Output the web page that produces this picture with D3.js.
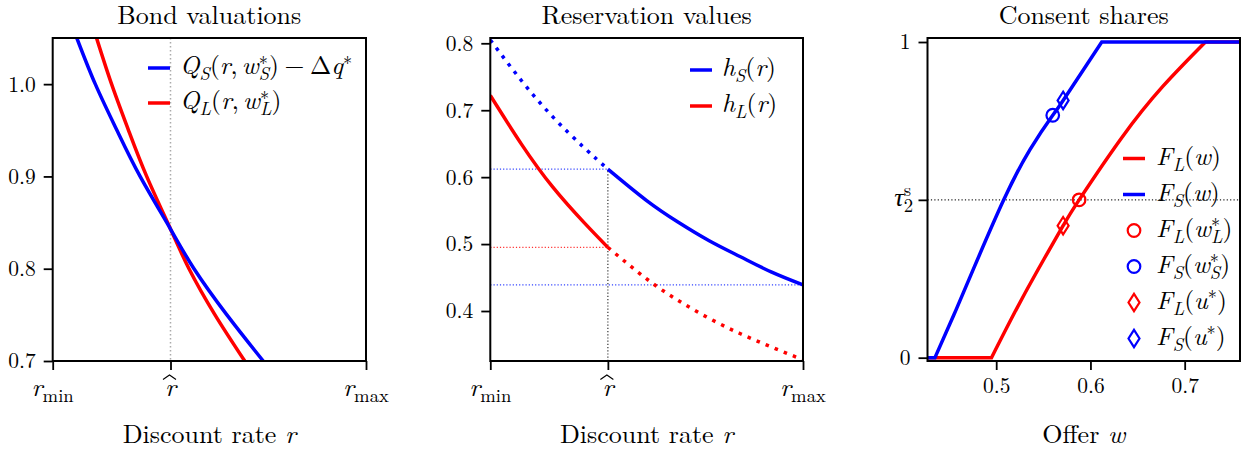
<!DOCTYPE html>
<html>
<head>
<meta charset="utf-8">
<script src="https://cdn.jsdelivr.net/npm/d3@7"></script>
</head>
<body style="margin:0;background:#fff">
<svg id="svg" width="1248" height="450"></svg>
<script>
// ---- values ----
const rHat = 0.376            // r-hat on a [r_min, r_max] = [0, 1] axis

// Bond valuations
const qsR = [0.077, 0.136, 0.205, 0.279, 0.376, 0.451, 0.556, 0.672]
const qsV = [1.05, 1.00, 0.95, 0.90, 0.843, 0.80, 0.75, 0.70]
const qlR = [0.140, 0.188, 0.242, 0.300, 0.376, 0.435, 0.518, 0.613]
const qlV = [1.05, 1.00, 0.95, 0.90, 0.843, 0.80, 0.75, 0.70]
const bondTicks = [0.7, 0.8, 0.9, 1.0]

// Reservation values
const hR  = [0, 0.1, 0.2, 0.3, 0.376, 0.5, 0.6, 0.7, 0.8, 0.9, 1.0]
const hsV = [0.805, 0.744, 0.690, 0.644, 0.612, 0.565, 0.533, 0.505, 0.481, 0.458, 0.439]
const hlV = [0.722, 0.649, 0.585, 0.532, 0.495, 0.448, 0.416, 0.389, 0.366, 0.346, 0.327]
const resTicks = [0.4, 0.5, 0.6, 0.7, 0.8]

// Consent shares
const fsW = [0.427, 0.435, 0.455, 0.476, 0.508, 0.536, 0.560, 0.571, 0.612, 0.759]
const fsV = [0, 0, 0.135, 0.282, 0.50, 0.660, 0.768, 0.815, 1, 1]
const flW = [0.427, 0.495, 0.519, 0.544, 0.571, 0.588, 0.633, 0.677, 0.722, 0.759]
const flV = [0, 0, 0.140, 0.277, 0.418, 0.50, 0.696, 0.860, 1, 1]
const markGroup = ["L", "S", "L", "S"]
const markKind  = ["circle", "circle", "diamond", "diamond"]
const markW = [0.588, 0.560, 0.571, 0.571]
const markF = [0.50, 0.768, 0.418, 0.815]
const tau2s = 0.5
const offerTicks = [0.5, 0.6, 0.7]

// ---- drawing ----
const BLUE = "#0000ff", RED = "#ff0000"
const col = { S: BLUE, L: RED }
const svg = d3.select("#svg").style("font-family", '"Latin Modern Roman", "CMU Serif", "Liberation Serif", serif')
const plotTop = 38, plotBot = 361
const TICK = 21.5, BIG = 26, LEG = 25.5

function mathText(g, x, y, parts, size, anchor) {
  const t = g.append("text").attr("x", x).attr("y", y).attr("font-size", size)
    .attr("text-anchor", anchor || "start").attr("fill", "#000")
  let shift = 0, lastW = 0
  parts.forEach(([s, f, gap]) => {
    const sub = f.includes("b"), sup = f.includes("p")
    const target = sub ? 0.22 * size : sup ? -0.38 * size : 0
    const ts = t.append("tspan").attr("dy", target - shift)
      .attr("font-size", (sub || sup) ? 0.72 * size : size)
      .attr("font-style", f.includes("i") ? "italic" : "normal").text(s)
    if (f.includes("k")) ts.attr("dx", -lastW)
    else if (gap) ts.attr("dx", gap * size)
    shift = target
    lastW = ts.node().getComputedTextLength()
  })
  return t
}

function frame(x0, x1) {
  svg.append("rect").attr("x", x0).attr("y", plotTop).attr("width", x1 - x0).attr("height", plotBot - plotTop)
    .attr("fill", "none").attr("stroke", "#000").attr("stroke-width", 2)
}

function styleAxis(g, size) {
  g.select(".domain").remove()
  g.selectAll("line").attr("stroke", "#000").attr("stroke-width", 1.8)
  g.attr("font-family", null).attr("font-size", size)
}

function clip(id, x0, x1) {
  svg.append("clipPath").attr("id", id).append("rect")
    .attr("x", x0).attr("y", plotTop).attr("width", x1 - x0).attr("height", plotBot - plotTop)
}

function legendLine(g, x, y, color) {
  g.append("line").attr("x1", x).attr("x2", x + 22).attr("y1", y).attr("y2", y)
    .attr("stroke", color).attr("stroke-width", 3.5)
}

function rTickLabels(x) {
  const g = svg.append("g")
  mathText(g, x(0), 396, [["r", "i"], ["min", "b"]], BIG, "middle")
  mathText(g, x(rHat), 396, [["r", "i"]], BIG, "middle")
  const hx = x(rHat) - 1
  g.append("path").attr("d", `M${hx - 6.5},379.5L${hx},375L${hx + 6.5},379.5`)
    .attr("fill", "none").attr("stroke", "#000").attr("stroke-width", 1.1)
  mathText(g, x(1), 396, [["r", "i"], ["max", "b"]], BIG, "middle")
}

const zip = (a, b) => a.map((v, i) => [v, b[i]])
const ast = "\u2217"

// ===== Panel 1: Bond valuations =====
{
  const x0 = 52.7, x1 = 366
  const x = d3.scaleLinear([0, 1], [x0, x1])
  const y = d3.scaleLinear([0.7, 1.05], [plotBot, plotTop])
  clip("c1", x0, x1)
  const line = d3.line().x(d => x(d[0])).y(d => y(d[1])).curve(d3.curveNatural)

  svg.append("line").attr("x1", x(rHat)).attr("x2", x(rHat)).attr("y1", plotTop).attr("y2", plotBot)
    .attr("stroke", "#aaa").attr("stroke-width", 1.5).attr("stroke-dasharray", "1.5,2.5")

  const pg = svg.append("g").attr("clip-path", "url(#c1)")
  pg.append("path").attr("d", line(zip(qlR, qlV))).attr("fill", "none").attr("stroke", RED).attr("stroke-width", 3.5)
  pg.append("path").attr("d", line(zip(qsR, qsV))).attr("fill", "none").attr("stroke", BLUE).attr("stroke-width", 3.5)

  frame(x0, x1)
  const ay = svg.append("g").attr("transform", `translate(${x0},0)`)
    .call(d3.axisLeft(y).tickValues(bondTicks).tickSize(9).tickPadding(8).tickFormat(d3.format(".1f")))
  styleAxis(ay, TICK)
  const ax = svg.append("g").attr("transform", `translate(0,${plotBot})`)
    .call(d3.axisBottom(x).tickValues([0, rHat, 1]).tickSize(9).tickFormat(""))
  styleAxis(ax, TICK)
  rTickLabels(x)

  const lg = svg.append("g")
  legendLine(lg, 148, 68, BLUE)
  mathText(lg, 180, 68 + 6.4, [["Q", "i"], ["S", "ib"], ["(", ""], ["r", "i"], [",", ""], ["w", "i", 0.16], [ast, "p"], ["S", "ibk"],
    [")", ""], ["\u2212", "", 0.22], ["\u0394", "", 0.22], ["q", "i"], [ast, "p"]], LEG)
  legendLine(lg, 148, 103, RED)
  mathText(lg, 180, 103 + 6.4, [["Q", "i"], ["L", "ib"], ["(", ""], ["r", "i"], [",", ""], ["w", "i", 0.16], [ast, "p"], ["L", "ibk"], [")", ""]], LEG)

  svg.append("text").attr("x", (x0 + x1) / 2).attr("y", 24).attr("text-anchor", "middle").attr("font-size", BIG).text("Bond valuations")
  mathText(svg, (x0 + x1) / 2, 443, [["Discount rate ", ""], ["r", "i"]], BIG, "middle")
}

// ===== Panel 2: Reservation values =====
{
  const x0 = 490.3, x1 = 803
  const x = d3.scaleLinear([0, 1], [x0, x1])
  const y = d3.scaleLinear([0.3253, 0.8079], [plotBot, plotTop])
  clip("c2", x0, x1)
  const line = d3.line().x(d => x(d[0])).y(d => y(d[1])).curve(d3.curveNatural)
  const hs = zip(hR, hsV), hl = zip(hR, hlV)
  const hsHat = hsV[hR.indexOf(rHat)], hlHat = hlV[hR.indexOf(rHat)], hsMax = hsV[hsV.length - 1]

  const thin = (xa, xb, ya, yb, c) => svg.append("line").attr("x1", xa).attr("x2", xb).attr("y1", ya).attr("y2", yb)
    .attr("stroke", c).attr("stroke-width", 1.2).attr("stroke-dasharray", "1.2,2")
  thin(x0, x(rHat), y(hsHat), y(hsHat), "#3344ff")
  thin(x0, x(rHat), y(hlHat), y(hlHat), "#ff3333")
  thin(x0, x1, y(hsMax), y(hsMax), "#3344ff")
  thin(x(rHat), x(rHat), plotBot, y(hsHat), "#333")

  const pg = svg.append("g").attr("clip-path", "url(#c2)")
  pg.append("path").attr("d", line(hl.filter(d => d[0] <= rHat))).attr("fill", "none").attr("stroke", RED).attr("stroke-width", 3.5)
  pg.append("path").attr("d", line(hl.filter(d => d[0] >= rHat))).attr("fill", "none").attr("stroke", RED).attr("stroke-width", 3.5)
    .attr("stroke-dasharray", "3.5,6.3")
  pg.append("path").attr("d", line(hs.filter(d => d[0] <= rHat))).attr("fill", "none").attr("stroke", BLUE).attr("stroke-width", 3.5)
    .attr("stroke-dasharray", "3.5,6.3")
  pg.append("path").attr("d", line(hs.filter(d => d[0] >= rHat))).attr("fill", "none").attr("stroke", BLUE).attr("stroke-width", 3.5)

  frame(x0, x1)
  const ay = svg.append("g").attr("transform", `translate(${x0},0)`)
    .call(d3.axisLeft(y).tickValues(resTicks).tickSize(9).tickPadding(8).tickFormat(d3.format(".1f")))
  styleAxis(ay, TICK)
  const ax = svg.append("g").attr("transform", `translate(0,${plotBot})`)
    .call(d3.axisBottom(x).tickValues([0, rHat, 1]).tickSize(9).tickFormat(""))
  styleAxis(ax, TICK)
  rTickLabels(x)

  const lg = svg.append("g")
  legendLine(lg, 690, 70, BLUE)
  mathText(lg, 722, 70 + 6.4, [["h", "i"], ["S", "ib"], ["(", ""], ["r", "i"], [")", ""]], LEG)
  legendLine(lg, 690, 106, RED)
  mathText(lg, 722, 106 + 6.4, [["h", "i"], ["L", "ib"], ["(", ""], ["r", "i"], [")", ""]], LEG)

  svg.append("text").attr("x", (x0 + x1) / 2).attr("y", 24).attr("text-anchor", "middle").attr("font-size", BIG).text("Reservation values")
  mathText(svg, (x0 + x1) / 2, 443, [["Discount rate ", ""], ["r", "i"]], BIG, "middle")
}

// ===== Panel 3: Consent shares =====
{
  const x0 = 927.5, x1 = 1240
  const x = d3.scaleLinear([0.4271, 0.7587], [x0, x1])
  const y = d3.scaleLinear([-0.0105, 1.0127], [plotBot, plotTop])
  clip("c3", x0, x1)
  const rise = d3.line().x(d => x(d[0])).y(d => y(d[1])).curve(d3.curveNatural)
  function cdfPath(ws, vs) {
    const pts = zip(ws, vs)
    const a = pts.findLastIndex(d => d[1] === 0), b = pts.findIndex(d => d[1] === 1)
    const mid = rise(pts.slice(a, b + 1))
    return `M${x(pts[0][0])},${y(0)}L` + mid.slice(1) + `L${x(pts[pts.length - 1][0])},${y(1)}`
  }

  svg.append("line").attr("x1", x0).attr("x2", x1).attr("y1", y(tau2s)).attr("y2", y(tau2s))
    .attr("stroke", "#222").attr("stroke-width", 1.2).attr("stroke-dasharray", "1.2,2.2")

  const pg = svg.append("g").attr("clip-path", "url(#c3)")
  pg.append("path").attr("d", cdfPath(flW, flV)).attr("fill", "none").attr("stroke", RED).attr("stroke-width", 3.5)
  pg.append("path").attr("d", cdfPath(fsW, fsV)).attr("fill", "none").attr("stroke", BLUE).attr("stroke-width", 3.5)

  const diamond = "M0,-8.7L5.5,0L0,8.7L-5.5,0Z"
  function marker(g, kind, cx, cy, c) {
    if (kind === "circle") g.append("circle").attr("cx", cx).attr("cy", cy).attr("r", 6.3)
      .attr("fill", "none").attr("stroke", c).attr("stroke-width", 2.2)
    else g.append("path").attr("d", diamond).attr("transform", `translate(${cx},${cy})`)
      .attr("fill", "none").attr("stroke", c).attr("stroke-width", 2.2)
  }
  markW.forEach((w, i) => marker(pg, markKind[i], x(w), y(markF[i]), col[markGroup[i]]))

  frame(x0, x1)
  const ay = svg.append("g").attr("transform", `translate(${x0},0)`)
    .call(d3.axisLeft(y).tickValues([0, tau2s, 1]).tickSize(9).tickPadding(8).tickFormat(d => d === tau2s ? "" : d3.format("d")(d)))
  styleAxis(ay, TICK)
  mathText(svg, 913, y(tau2s) + 6, [["\u03c4", "i"], ["s", "p"], ["2", "bk"]], BIG, "end")
  const ax = svg.append("g").attr("transform", `translate(0,${plotBot})`)
    .call(d3.axisBottom(x).tickValues(offerTicks).tickSize(9).tickPadding(7.5).tickFormat(d3.format(".1f")))
  styleAxis(ax, TICK)

  const lg = svg.append("g")
  const rows = [158.5, 194.5, 230.5, 266.5, 302.5, 338.5]
  const labels = [
    [["F", "i"], ["L", "ib"], ["(", ""], ["w", "i"], [")", ""]],
    [["F", "i"], ["S", "ib"], ["(", ""], ["w", "i"], [")", ""]],
    [["F", "i"], ["L", "ib"], ["(", ""], ["w", "i"], [ast, "p"], ["L", "ibk"], [")", ""]],
    [["F", "i"], ["S", "ib"], ["(", ""], ["w", "i"], [ast, "p"], ["S", "ibk"], [")", ""]],
    [["F", "i"], ["L", "ib"], ["(", ""], ["u", "i"], [ast, "p"], [")", ""]],
    [["F", "i"], ["S", "ib"], ["(", ""], ["u", "i"], [ast, "p"], [")", ""]]
  ]
  legendLine(lg, 1123, rows[0], RED)
  legendLine(lg, 1123, rows[1], BLUE)
  markKind.forEach((k, i) => marker(lg, k, 1134, rows[i + 2], col[markGroup[i]]))
  labels.forEach((p, i) => mathText(lg, 1156, rows[i] + 6.4, p, LEG))

  svg.append("text").attr("x", (x0 + x1) / 2).attr("y", 24).attr("text-anchor", "middle").attr("font-size", BIG).text("Consent shares")
  mathText(svg, (x0 + x1) / 2, 443, [["Offer ", ""], ["w", "i"]], BIG, "middle")
}
</script>
</body>
</html>
